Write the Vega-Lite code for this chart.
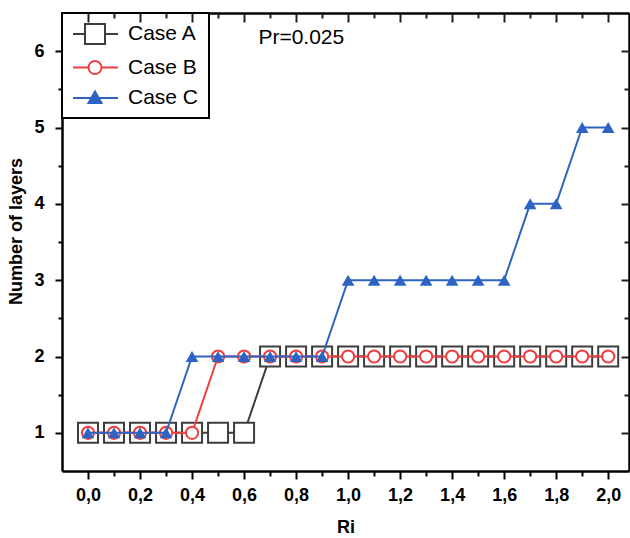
{
  "$schema": "https://vega.github.io/schema/vega-lite/v6.json",
  "width": 567,
  "height": 458,
  "autosize": {"type": "none"},
  "padding": {"left": 62, "top": 13, "right": 1, "bottom": 67},
  "background": "white",
  "config": {
    "view": {"stroke": null},
    "axis": {
      "labelFont": "Liberation Sans", "labelFontWeight": "bold", "labelFontSize": 18, "labelColor": "black",
      "titleFont": "Liberation Sans", "titleFontWeight": "bold", "titleFontSize": 18, "titleColor": "black",
      "tickColor": "black", "domainColor": "black", "grid": false, "tickWidth": 2, "domainWidth": 2.5
    },
    "legend": {
      "orient": "top-left", "offset": 0, "padding": 10, "strokeColor": "black", "strokeWidth": 2,
      "fillColor": "white", "symbolSize": 400, "symbolStrokeWidth": 2, "symbolOpacity": 1,
      "labelFont": "Liberation Sans", "labelFontSize": 21, "labelColor": "black", "labelOffset": 34,
      "rowPadding": 8.5
    }
  },
  "data": {"values": [
    {"case": "Case A", "ri": 0.0, "n": 1}, {"case": "Case A", "ri": 0.1, "n": 1}, {"case": "Case A", "ri": 0.2, "n": 1},
    {"case": "Case A", "ri": 0.3, "n": 1}, {"case": "Case A", "ri": 0.4, "n": 1}, {"case": "Case A", "ri": 0.5, "n": 1},
    {"case": "Case A", "ri": 0.6, "n": 1}, {"case": "Case A", "ri": 0.7, "n": 2}, {"case": "Case A", "ri": 0.8, "n": 2},
    {"case": "Case A", "ri": 0.9, "n": 2}, {"case": "Case A", "ri": 1.0, "n": 2}, {"case": "Case A", "ri": 1.1, "n": 2},
    {"case": "Case A", "ri": 1.2, "n": 2}, {"case": "Case A", "ri": 1.3, "n": 2}, {"case": "Case A", "ri": 1.4, "n": 2},
    {"case": "Case A", "ri": 1.5, "n": 2}, {"case": "Case A", "ri": 1.6, "n": 2}, {"case": "Case A", "ri": 1.7, "n": 2},
    {"case": "Case A", "ri": 1.8, "n": 2}, {"case": "Case A", "ri": 1.9, "n": 2}, {"case": "Case A", "ri": 2.0, "n": 2},
    {"case": "Case B", "ri": 0.0, "n": 1}, {"case": "Case B", "ri": 0.1, "n": 1}, {"case": "Case B", "ri": 0.2, "n": 1},
    {"case": "Case B", "ri": 0.3, "n": 1}, {"case": "Case B", "ri": 0.4, "n": 1}, {"case": "Case B", "ri": 0.5, "n": 2},
    {"case": "Case B", "ri": 0.6, "n": 2}, {"case": "Case B", "ri": 0.7, "n": 2}, {"case": "Case B", "ri": 0.8, "n": 2},
    {"case": "Case B", "ri": 0.9, "n": 2}, {"case": "Case B", "ri": 1.0, "n": 2}, {"case": "Case B", "ri": 1.1, "n": 2},
    {"case": "Case B", "ri": 1.2, "n": 2}, {"case": "Case B", "ri": 1.3, "n": 2}, {"case": "Case B", "ri": 1.4, "n": 2},
    {"case": "Case B", "ri": 1.5, "n": 2}, {"case": "Case B", "ri": 1.6, "n": 2}, {"case": "Case B", "ri": 1.7, "n": 2},
    {"case": "Case B", "ri": 1.8, "n": 2}, {"case": "Case B", "ri": 1.9, "n": 2}, {"case": "Case B", "ri": 2.0, "n": 2},
    {"case": "Case C", "ri": 0.0, "n": 1}, {"case": "Case C", "ri": 0.1, "n": 1}, {"case": "Case C", "ri": 0.2, "n": 1},
    {"case": "Case C", "ri": 0.3, "n": 1}, {"case": "Case C", "ri": 0.4, "n": 2}, {"case": "Case C", "ri": 0.5, "n": 2},
    {"case": "Case C", "ri": 0.6, "n": 2}, {"case": "Case C", "ri": 0.7, "n": 2}, {"case": "Case C", "ri": 0.8, "n": 2},
    {"case": "Case C", "ri": 0.9, "n": 2}, {"case": "Case C", "ri": 1.0, "n": 3}, {"case": "Case C", "ri": 1.1, "n": 3},
    {"case": "Case C", "ri": 1.2, "n": 3}, {"case": "Case C", "ri": 1.3, "n": 3}, {"case": "Case C", "ri": 1.4, "n": 3},
    {"case": "Case C", "ri": 1.5, "n": 3}, {"case": "Case C", "ri": 1.6, "n": 3}, {"case": "Case C", "ri": 1.7, "n": 4},
    {"case": "Case C", "ri": 1.8, "n": 4}, {"case": "Case C", "ri": 1.9, "n": 5}, {"case": "Case C", "ri": 2.0, "n": 5}
  ]},
  "layer": [
    {
      "transform": [{"filter": "datum.case == 'Case A'"}],
      "mark": {"type": "line", "color": "#3d3d3d", "strokeWidth": 2},
      "encoding": {
        "x": {"field": "ri", "type": "quantitative", "scale": {"domain": [-0.1, 2.08], "nice": false, "zero": false},
          "axis": {"orient": "bottom", "values": [0, 0.2, 0.4, 0.6, 0.8, 1.0, 1.2, 1.4, 1.6, 1.8, 2.0], "tickSize": 8, "labelPadding": 7,
            "labelExpr": "replace(format(datum.value, '.1f'), '.', ',')", "title": "Ri", "titlePadding": 14}},
        "y": {"field": "n", "type": "quantitative", "scale": {"domain": [0.5, 6.5], "nice": false, "zero": false},
          "axis": {"orient": "left", "values": [1, 2, 3, 4, 5, 6], "tickSize": 7, "labelPadding": 11, "format": "d",
            "title": "Number of layers", "titlePadding": 8, "titleY": 218}}
      }
    },
    {
      "transform": [{"filter": "datum.case == 'Case A'"}],
      "mark": {"type": "point", "shape": "square", "size": 400, "filled": false, "stroke": "#3d3d3d", "fill": "white", "fillOpacity": 1, "opacity": 1, "strokeWidth": 2},
      "encoding": {
        "x": {"field": "ri", "type": "quantitative", "scale": {"domain": [-0.1, 2.08], "nice": false, "zero": false},
          "axis": {"orient": "bottom", "values": [0.1, 0.3, 0.5, 0.7, 0.9, 1.1, 1.3, 1.5, 1.7, 1.9], "tickSize": 5, "labels": false, "domain": false, "title": null}},
        "y": {"field": "n", "type": "quantitative", "scale": {"domain": [0.5, 6.5], "nice": false, "zero": false},
          "axis": {"orient": "left", "values": [1.5, 2.5, 3.5, 4.5, 5.5], "tickSize": 4, "labels": false, "domain": false, "title": null}}
      }
    },
    {
      "transform": [{"filter": "datum.case == 'Case B'"}],
      "mark": {"type": "line", "color": "#f23d3d", "strokeWidth": 2},
      "encoding": {
        "x": {"field": "ri", "type": "quantitative", "scale": {"domain": [-0.1, 2.08], "nice": false, "zero": false},
          "axis": {"orient": "top", "values": [0, 0.2, 0.4, 0.6, 0.8, 1.0, 1.2, 1.4, 1.6, 1.8, 2.0], "offset": -9, "tickSize": 9, "tickColor": "#202020", "zindex": 2, "domain": false, "labels": false, "title": null}},
        "y": {"field": "n", "type": "quantitative", "scale": {"domain": [0.5, 6.5], "nice": false, "zero": false},
          "axis": {"orient": "right", "values": [1, 2, 3, 4, 5, 6], "offset": -8, "tickSize": 8, "tickColor": "#202020", "zindex": 2, "domain": false, "labels": false, "title": null}}
      }
    },
    {
      "transform": [{"filter": "datum.case == 'Case B'"}],
      "mark": {"type": "point", "shape": "circle", "size": 150, "filled": false, "stroke": "#f23d3d", "fill": "white", "fillOpacity": 1, "opacity": 1, "strokeWidth": 2},
      "encoding": {
        "x": {"field": "ri", "type": "quantitative", "scale": {"domain": [-0.1, 2.08], "nice": false, "zero": false},
          "axis": {"orient": "top", "values": [0.1, 0.3, 0.5, 0.7, 0.9, 1.1, 1.3, 1.5, 1.7, 1.9], "offset": -5, "tickSize": 5, "tickColor": "#202020", "zindex": 2, "labels": false, "domain": false, "title": null}},
        "y": {"field": "n", "type": "quantitative", "scale": {"domain": [0.5, 6.5], "nice": false, "zero": false},
          "axis": {"orient": "right", "values": [1.5, 2.5, 3.5, 4.5, 5.5], "offset": -5, "tickSize": 5, "tickColor": "#202020", "zindex": 2, "labels": false, "domain": false, "title": null}}
      }
    },
    {
      "transform": [{"filter": "datum.case == 'Case C'"}],
      "mark": {"type": "line", "color": "#2d64c3", "strokeWidth": 2},
      "encoding": {
        "x": {"field": "ri", "type": "quantitative", "scale": {"domain": [-0.1, 2.08], "nice": false, "zero": false},
          "axis": {"orient": "top", "ticks": false, "labels": false, "domain": true, "title": null}},
        "y": {"field": "n", "type": "quantitative", "scale": {"domain": [0.5, 6.5], "nice": false, "zero": false},
          "axis": {"orient": "right", "ticks": false, "labels": false, "domain": true, "title": null}}
      }
    },
    {
      "transform": [{"filter": "datum.case == 'Case C'"}],
      "mark": {"type": "point", "shape": "triangle-up", "size": 160, "filled": true, "color": "#2d64c3", "opacity": 1},
      "encoding": {
        "x": {"field": "ri", "type": "quantitative", "scale": {"domain": [-0.1, 2.08], "nice": false, "zero": false}, "axis": null},
        "y": {"field": "n", "type": "quantitative", "scale": {"domain": [0.5, 6.5], "nice": false, "zero": false}, "axis": null}
      }
    },
    {
      "mark": {"type": "point", "opacity": 0, "strokeWidth": 2},
      "encoding": {
        "x": {"field": "ri", "type": "quantitative", "scale": {"domain": [-0.1, 2.08], "nice": false, "zero": false}, "axis": null},
        "y": {"field": "n", "type": "quantitative", "scale": {"domain": [0.5, 6.5], "nice": false, "zero": false}, "axis": null},
        "stroke": {"field": "case", "type": "nominal", "scale": {"domain": ["Case A", "Case B", "Case C"], "range": ["#3d3d3d", "#f23d3d", "#2d64c3"]}, "legend": {"title": null}},
        "fill": {"field": "case", "type": "nominal", "scale": {"domain": ["Case A", "Case B", "Case C"], "range": ["white", "white", "#2d64c3"]}, "legend": {"title": null}},
        "shape": {"field": "case", "type": "nominal", "scale": {"domain": ["Case A", "Case B", "Case C"], "range": [
          "M-1,0H0.2M2.2,0H3.5M0.2,-1H2.2V1H0.2Z",
          "M-1,0H0.55M1.85,0H3.5M0.55,0A0.65,0.65,0,1,0,1.85,0A0.65,0.65,0,1,0,0.55,0Z",
          "M-1,0H3.5M1.2,-0.65L1.85,0.5H0.55Z"
        ]}, "legend": {"title": null}}
      }
    },
    {
      "data": {"values": [{"label": "Pr=0.025"}]},
      "mark": {"type": "text", "font": "Liberation Sans", "fontSize": 21, "color": "black", "align": "center", "baseline": "middle"},
      "encoding": {
        "text": {"field": "label"},
        "x": {"datum": 0.82, "type": "quantitative", "scale": {"domain": [-0.1, 2.08], "nice": false, "zero": false}, "axis": null},
        "y": {"datum": 6.17, "type": "quantitative", "scale": {"domain": [0.5, 6.5], "nice": false, "zero": false}, "axis": null}
      }
    }
  ],
  "resolve": {"axis": {"x": "independent", "y": "independent"}}
}
